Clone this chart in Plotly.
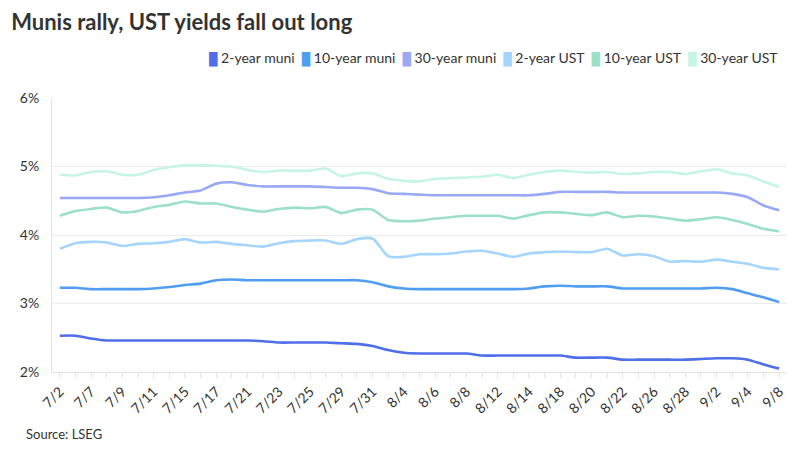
import plotly.graph_objects as go

###data
dates = ['7/2', '7/3', '7/7', '7/8', '7/9', '7/10', '7/11', '7/14', '7/15', '7/16',
         '7/17', '7/18', '7/21', '7/22', '7/23', '7/24', '7/25', '7/28', '7/29', '7/30',
         '7/31', '8/1', '8/4', '8/5', '8/6', '8/7', '8/8', '8/11', '8/12', '8/13',
         '8/14', '8/15', '8/18', '8/19', '8/20', '8/21', '8/22', '8/25', '8/26', '8/27',
         '8/28', '8/29', '9/2', '9/3', '9/4', '9/5', '9/8']

muni_2y = [2.53, 2.53, 2.49, 2.46, 2.46, 2.46, 2.46, 2.46, 2.46, 2.46,
           2.46, 2.46, 2.46, 2.45, 2.43, 2.43, 2.43, 2.43, 2.42, 2.41,
           2.38, 2.32, 2.28, 2.27, 2.27, 2.27, 2.27, 2.24, 2.24, 2.24,
           2.24, 2.24, 2.24, 2.21, 2.21, 2.21, 2.18, 2.18, 2.18, 2.18,
           2.18, 2.19, 2.20, 2.20, 2.18, 2.11, 2.05]

muni_10y = [3.23, 3.23, 3.21, 3.21, 3.21, 3.21, 3.22, 3.24, 3.27, 3.29,
            3.34, 3.35, 3.34, 3.34, 3.34, 3.34, 3.34, 3.34, 3.34, 3.34,
            3.31, 3.25, 3.22, 3.21, 3.21, 3.21, 3.21, 3.21, 3.21, 3.21,
            3.22, 3.25, 3.26, 3.25, 3.25, 3.25, 3.22, 3.22, 3.22, 3.22,
            3.22, 3.22, 3.23, 3.21, 3.15, 3.09, 3.02]

muni_30y = [4.54, 4.54, 4.54, 4.54, 4.54, 4.54, 4.55, 4.58, 4.62, 4.65,
            4.75, 4.77, 4.73, 4.71, 4.71, 4.71, 4.71, 4.70, 4.69, 4.69,
            4.67, 4.61, 4.60, 4.59, 4.58, 4.58, 4.58, 4.58, 4.58, 4.58,
            4.58, 4.60, 4.63, 4.63, 4.63, 4.63, 4.62, 4.62, 4.62, 4.62,
            4.62, 4.62, 4.62, 4.60, 4.55, 4.43, 4.36]

ust_2y = [3.80, 3.88, 3.90, 3.89, 3.84, 3.87, 3.88, 3.90, 3.94, 3.89,
          3.90, 3.87, 3.85, 3.83, 3.88, 3.91, 3.92, 3.92, 3.87, 3.94,
          3.95, 3.69, 3.68, 3.72, 3.72, 3.73, 3.76, 3.77, 3.73, 3.68,
          3.73, 3.75, 3.76, 3.75, 3.75, 3.80, 3.70, 3.72, 3.69, 3.61,
          3.62, 3.61, 3.64, 3.61, 3.58, 3.52, 3.50]

ust_10y = [4.28, 4.35, 4.38, 4.40, 4.33, 4.35, 4.41, 4.44, 4.49, 4.46,
           4.46, 4.41, 4.37, 4.34, 4.38, 4.40, 4.39, 4.41, 4.32, 4.37,
           4.37, 4.22, 4.20, 4.21, 4.24, 4.26, 4.28, 4.28, 4.28, 4.24,
           4.29, 4.33, 4.33, 4.31, 4.29, 4.33, 4.26, 4.28, 4.27, 4.24,
           4.21, 4.23, 4.26, 4.22, 4.16, 4.09, 4.05]

ust_30y = [4.88, 4.87, 4.92, 4.93, 4.88, 4.88, 4.95, 4.99, 5.02, 5.02,
           5.01, 5.00, 4.95, 4.92, 4.94, 4.94, 4.94, 4.97, 4.86, 4.90,
           4.90, 4.82, 4.79, 4.78, 4.82, 4.83, 4.84, 4.85, 4.88, 4.83,
           4.88, 4.92, 4.94, 4.92, 4.91, 4.92, 4.89, 4.90, 4.92, 4.92,
           4.89, 4.93, 4.96, 4.90, 4.87, 4.78, 4.70]

series_names = ['2-year muni', '10-year muni', '30-year muni', '2-year UST', '10-year UST', '30-year UST']
series_values = [muni_2y, muni_10y, muni_30y, ust_2y, ust_10y, ust_30y]
series_colors = ['#4f6fe8', '#4f9ef0', '#9aa9f5', '#a5d5fd', '#9de0c8', '#c6f5e4']

y_ticks = [2, 3, 4, 5, 6]

FONT = 'Lato, sans-serif'
TEXT = '#333333'
GRID = '#ebebeb'

fig = go.Figure()

#one smooth line per series
for name, values, color in zip(series_names, series_values, series_colors):
    fig.add_trace(go.Scatter(x=dates, y=values, name=name, mode='lines',
                             line=dict(color=color, width=2.6, shape='spline', smoothing=0.6),
                             showlegend=False))

#legend as one line of text with coloured blocks in front of each name
legend_parts = []
for name, color in zip(series_names, series_colors):
    legend_parts.append("<span style='color:%s;font-size:12px'>\u2588</span> %s" % (color, name))
legend_text = '\u2002'.join(legend_parts)

fig.add_annotation(text=legend_text, xref='paper', yref='paper', x=0.99, y=1.145,
                   xanchor='right', yanchor='middle', showarrow=False,
                   font=dict(family=FONT, size=14, color=TEXT))

fig.add_annotation(text='Source: LSEG', xref='paper', yref='paper', x=-0.038, y=-0.225,
                   xanchor='left', yanchor='middle', showarrow=False,
                   font=dict(family=FONT, size=13, color=TEXT))

#only every other date gets a label, every date gets a tick
tick_text = [d if i % 2 == 0 else '' for i, d in enumerate(dates)]
y_text = [str(v) + '%' for v in y_ticks]

fig.update_layout(
    width=800, height=450,
    margin=dict(l=40, r=21, t=90, b=86),
    paper_bgcolor='white', plot_bgcolor='white',
    font=dict(family=FONT, color=TEXT),
    title=dict(text='<b>Munis rally, UST yields fall out long</b>',
               x=0.004, xref='container', xanchor='left',
               y=0.985, yref='container', yanchor='top',
               font=dict(family=FONT, size=22, color=TEXT)),
    xaxis=dict(type='category', range=[-0.5, len(dates) - 0.5],
               tickmode='array', tickvals=dates, ticktext=tick_text,
               tickangle=-45, ticks='outside', ticklen=5, tickcolor='#e3e3e3',
               showgrid=False, showline=True, linecolor='#e3e3e3',
               tickfont=dict(family=FONT, size=14, color=TEXT)),
    yaxis=dict(range=[2, 6], tickmode='array', tickvals=y_ticks, ticktext=y_text,
               showgrid=True, gridcolor=GRID, zeroline=False,
               showline=True, linecolor='#e3e3e3', ticklabelstandoff=9,
               tickfont=dict(family=FONT, size=14, color=TEXT)),
)

fig.write_html("out.html")
